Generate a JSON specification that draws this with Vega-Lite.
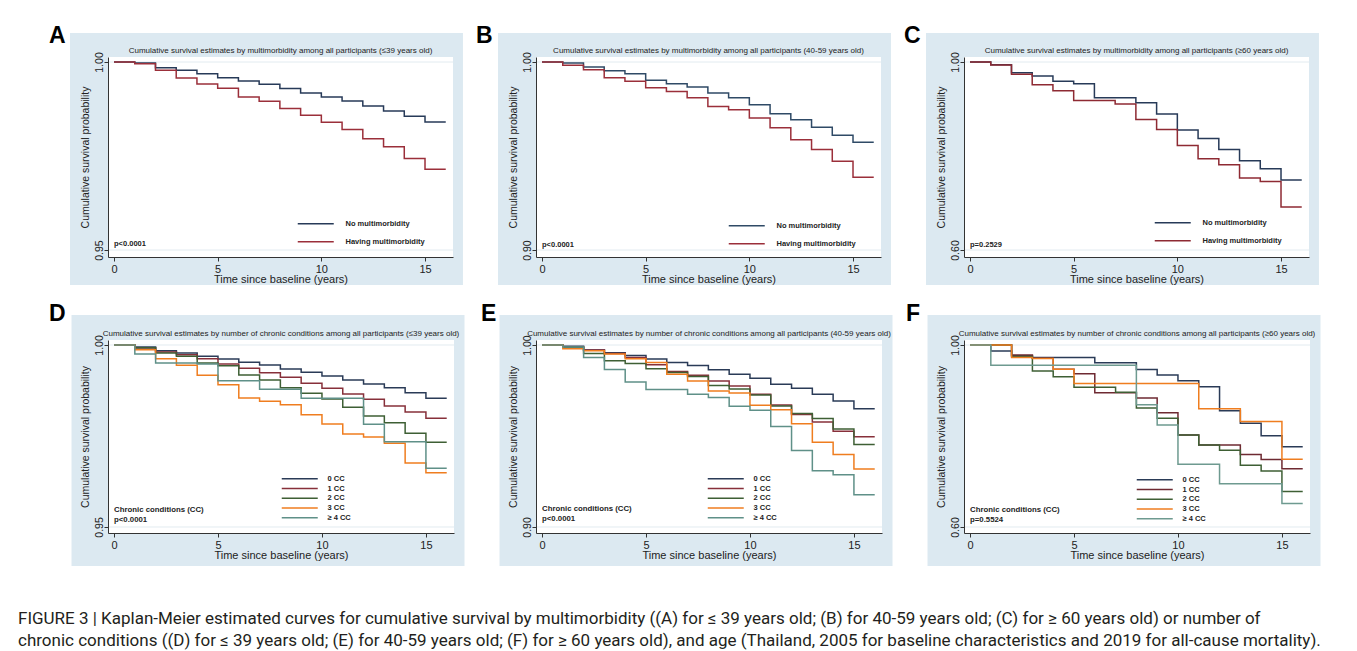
{
  "$schema": "https://vega.github.io/schema/vega-lite/v6.json",
  "background": "white",
  "padding": {"left": 17, "top": 24, "right": 10, "bottom": 6},
  "config": {
    "font": "Liberation Sans",
    "view": {"stroke": null},
    "axis": {"grid": false, "domainColor": "#333333", "tickColor": "#333333", "labelColor": "#222222", "titleColor": "#222222", "titleFontWeight": "normal", "tickSize": 4, "labelFont": "Liberation Sans", "titleFont": "Liberation Sans"},
    "axisX": {"labelFontSize": 11, "titleFontSize": 11, "labelPadding": 2, "titlePadding": -1, "labelFlush": false},
    "axisY": {"labelFontSize": 10.5, "titleFontSize": 10.5, "labelAngle": -90, "labelAlign": "center", "labelBaseline": "bottom", "labelPadding": 0, "titlePadding": 4},
    "legend": {"orient": "none", "symbolType": "M-9,0H9", "symbolSize": 16, "symbolStrokeWidth": 1.5, "labelFont": "Liberation Sans", "labelFontSize": 7.5, "labelFontWeight": "bold", "labelColor": "#222222", "padding": 0},
    "title": {"font": "Liberation Sans", "fontSize": 8, "fontWeight": "normal", "color": "#222222", "anchor": "middle", "frame": "group", "offset": -30, "zindex": 1},
    "text": {"font": "Liberation Sans", "color": "#222222"}
  },
  "datasets": {
    "A": [
      {"t":0,"s":1,"g":"No multimorbidity"},{"t":1,"s":0.99973,"g":"No multimorbidity"},{"t":2,"s":0.9985,"g":"No multimorbidity"},{"t":3,"s":0.99779,"g":"No multimorbidity"},{"t":4,"s":0.9969,"g":"No multimorbidity"},{"t":5,"s":0.99584,"g":"No multimorbidity"},{"t":6,"s":0.99496,"g":"No multimorbidity"},{"t":7,"s":0.99407,"g":"No multimorbidity"},{"t":8,"s":0.99292,"g":"No multimorbidity"},{"t":9,"s":0.99177,"g":"No multimorbidity"},{"t":10,"s":0.99071,"g":"No multimorbidity"},{"t":11,"s":0.98965,"g":"No multimorbidity"},{"t":12,"s":0.98832,"g":"No multimorbidity"},{"t":13,"s":0.98699,"g":"No multimorbidity"},{"t":14,"s":0.98558,"g":"No multimorbidity"},{"t":15,"s":0.98407,"g":"No multimorbidity"},{"t":16,"s":0.98407,"g":"No multimorbidity"},
      {"t":0,"s":1,"g":"Having multimorbidity"},{"t":1,"s":0.99956,"g":"Having multimorbidity"},{"t":2,"s":0.99779,"g":"Having multimorbidity"},{"t":3,"s":0.99575,"g":"Having multimorbidity"},{"t":4,"s":0.99416,"g":"Having multimorbidity"},{"t":5,"s":0.99301,"g":"Having multimorbidity"},{"t":6,"s":0.99071,"g":"Having multimorbidity"},{"t":7,"s":0.98956,"g":"Having multimorbidity"},{"t":8,"s":0.98761,"g":"Having multimorbidity"},{"t":9,"s":0.98584,"g":"Having multimorbidity"},{"t":10,"s":0.98398,"g":"Having multimorbidity"},{"t":11,"s":0.98204,"g":"Having multimorbidity"},{"t":12,"s":0.97956,"g":"Having multimorbidity"},{"t":13,"s":0.97743,"g":"Having multimorbidity"},{"t":14,"s":0.97434,"g":"Having multimorbidity"},{"t":15,"s":0.9715,"g":"Having multimorbidity"},{"t":16,"s":0.9715,"g":"Having multimorbidity"}
    ],
    "B": [
      {"t":0,"s":1,"g":"No multimorbidity"},{"t":1,"s":0.99947,"g":"No multimorbidity"},{"t":2,"s":0.99734,"g":"No multimorbidity"},{"t":3,"s":0.99538,"g":"No multimorbidity"},{"t":4,"s":0.99378,"g":"No multimorbidity"},{"t":5,"s":0.99023,"g":"No multimorbidity"},{"t":6,"s":0.98845,"g":"No multimorbidity"},{"t":7,"s":0.98668,"g":"No multimorbidity"},{"t":8,"s":0.98348,"g":"No multimorbidity"},{"t":9,"s":0.98099,"g":"No multimorbidity"},{"t":10,"s":0.97726,"g":"No multimorbidity"},{"t":11,"s":0.97247,"g":"No multimorbidity"},{"t":12,"s":0.96927,"g":"No multimorbidity"},{"t":13,"s":0.96536,"g":"No multimorbidity"},{"t":14,"s":0.9611,"g":"No multimorbidity"},{"t":15,"s":0.95737,"g":"No multimorbidity"},{"t":16,"s":0.95737,"g":"No multimorbidity"},
      {"t":0,"s":1,"g":"Having multimorbidity"},{"t":1,"s":0.99822,"g":"Having multimorbidity"},{"t":2,"s":0.99591,"g":"Having multimorbidity"},{"t":3,"s":0.99165,"g":"Having multimorbidity"},{"t":4,"s":0.9897,"g":"Having multimorbidity"},{"t":5,"s":0.98632,"g":"Having multimorbidity"},{"t":6,"s":0.98437,"g":"Having multimorbidity"},{"t":7,"s":0.98099,"g":"Having multimorbidity"},{"t":8,"s":0.97638,"g":"Having multimorbidity"},{"t":9,"s":0.9746,"g":"Having multimorbidity"},{"t":10,"s":0.97016,"g":"Having multimorbidity"},{"t":11,"s":0.96501,"g":"Having multimorbidity"},{"t":12,"s":0.95861,"g":"Having multimorbidity"},{"t":13,"s":0.95346,"g":"Having multimorbidity"},{"t":14,"s":0.94725,"g":"Having multimorbidity"},{"t":15,"s":0.93872,"g":"Having multimorbidity"},{"t":16,"s":0.93872,"g":"Having multimorbidity"}
    ],
    "C": [
      {"t":0,"s":1,"g":"No multimorbidity"},{"t":1,"s":0.99432,"g":"No multimorbidity"},{"t":2,"s":0.97726,"g":"No multimorbidity"},{"t":3,"s":0.97016,"g":"No multimorbidity"},{"t":4,"s":0.95879,"g":"No multimorbidity"},{"t":5,"s":0.95382,"g":"No multimorbidity"},{"t":6,"s":0.92398,"g":"No multimorbidity"},{"t":7,"s":0.92398,"g":"No multimorbidity"},{"t":8,"s":0.91332,"g":"No multimorbidity"},{"t":9,"s":0.88917,"g":"No multimorbidity"},{"t":10,"s":0.85506,"g":"No multimorbidity"},{"t":11,"s":0.8373,"g":"No multimorbidity"},{"t":12,"s":0.81385,"g":"No multimorbidity"},{"t":13,"s":0.7897,"g":"No multimorbidity"},{"t":14,"s":0.77265,"g":"No multimorbidity"},{"t":15,"s":0.7492,"g":"No multimorbidity"},{"t":16,"s":0.7492,"g":"No multimorbidity"},
      {"t":0,"s":1,"g":"Having multimorbidity"},{"t":1,"s":0.99361,"g":"Having multimorbidity"},{"t":2,"s":0.97371,"g":"Having multimorbidity"},{"t":3,"s":0.95169,"g":"Having multimorbidity"},{"t":4,"s":0.9389,"g":"Having multimorbidity"},{"t":5,"s":0.91829,"g":"Having multimorbidity"},{"t":6,"s":0.91829,"g":"Having multimorbidity"},{"t":7,"s":0.91048,"g":"Having multimorbidity"},{"t":8,"s":0.8778,"g":"Having multimorbidity"},{"t":9,"s":0.85648,"g":"Having multimorbidity"},{"t":10,"s":0.82238,"g":"Having multimorbidity"},{"t":11,"s":0.79396,"g":"Having multimorbidity"},{"t":12,"s":0.78117,"g":"Having multimorbidity"},{"t":13,"s":0.75346,"g":"Having multimorbidity"},{"t":14,"s":0.74565,"g":"Having multimorbidity"},{"t":15,"s":0.69165,"g":"Having multimorbidity"},{"t":16,"s":0.69165,"g":"Having multimorbidity"}
    ],
    "D": [
      {"t":0,"s":1,"g":"0 CC"},{"t":1,"s":0.99945,"g":"0 CC"},{"t":2,"s":0.99844,"g":"0 CC"},{"t":3,"s":0.9978,"g":"0 CC"},{"t":4,"s":0.99689,"g":"0 CC"},{"t":5,"s":0.99615,"g":"0 CC"},{"t":6,"s":0.99524,"g":"0 CC"},{"t":7,"s":0.99451,"g":"0 CC"},{"t":8,"s":0.99341,"g":"0 CC"},{"t":9,"s":0.99249,"g":"0 CC"},{"t":10,"s":0.99148,"g":"0 CC"},{"t":11,"s":0.99038,"g":"0 CC"},{"t":12,"s":0.98929,"g":"0 CC"},{"t":13,"s":0.98828,"g":"0 CC"},{"t":14,"s":0.9869,"g":"0 CC"},{"t":15,"s":0.98535,"g":"0 CC"},{"t":16,"s":0.98535,"g":"0 CC"},
      {"t":0,"s":1,"g":"1 CC"},{"t":1,"s":0.99918,"g":"1 CC"},{"t":2,"s":0.99808,"g":"1 CC"},{"t":3,"s":0.99734,"g":"1 CC"},{"t":4,"s":0.99625,"g":"1 CC"},{"t":5,"s":0.99478,"g":"1 CC"},{"t":6,"s":0.99359,"g":"1 CC"},{"t":7,"s":0.9924,"g":"1 CC"},{"t":8,"s":0.99112,"g":"1 CC"},{"t":9,"s":0.98947,"g":"1 CC"},{"t":10,"s":0.9881,"g":"1 CC"},{"t":11,"s":0.98654,"g":"1 CC"},{"t":12,"s":0.98507,"g":"1 CC"},{"t":13,"s":0.98324,"g":"1 CC"},{"t":14,"s":0.98159,"g":"1 CC"},{"t":15,"s":0.97985,"g":"1 CC"},{"t":16,"s":0.97985,"g":"1 CC"},
      {"t":0,"s":1,"g":"2 CC"},{"t":1,"s":0.99927,"g":"2 CC"},{"t":2,"s":0.9978,"g":"2 CC"},{"t":3,"s":0.99689,"g":"2 CC"},{"t":4,"s":0.99505,"g":"2 CC"},{"t":5,"s":0.99432,"g":"2 CC"},{"t":6,"s":0.99176,"g":"2 CC"},{"t":7,"s":0.99038,"g":"2 CC"},{"t":8,"s":0.98828,"g":"2 CC"},{"t":9,"s":0.98672,"g":"2 CC"},{"t":10,"s":0.98516,"g":"2 CC"},{"t":11,"s":0.98288,"g":"2 CC"},{"t":12,"s":0.98049,"g":"2 CC"},{"t":13,"s":0.97866,"g":"2 CC"},{"t":14,"s":0.97573,"g":"2 CC"},{"t":15,"s":0.97326,"g":"2 CC"},{"t":16,"s":0.97326,"g":"2 CC"},
      {"t":0,"s":1,"g":"3 CC"},{"t":1,"s":0.99872,"g":"3 CC"},{"t":2,"s":0.99625,"g":"3 CC"},{"t":3,"s":0.99441,"g":"3 CC"},{"t":4,"s":0.99167,"g":"3 CC"},{"t":5,"s":0.9891,"g":"3 CC"},{"t":6,"s":0.98544,"g":"3 CC"},{"t":7,"s":0.98452,"g":"3 CC"},{"t":8,"s":0.98361,"g":"3 CC"},{"t":9,"s":0.98086,"g":"3 CC"},{"t":10,"s":0.9783,"g":"3 CC"},{"t":11,"s":0.97555,"g":"3 CC"},{"t":12,"s":0.97473,"g":"3 CC"},{"t":13,"s":0.97299,"g":"3 CC"},{"t":14,"s":0.96758,"g":"3 CC"},{"t":15,"s":0.96493,"g":"3 CC"},{"t":16,"s":0.96493,"g":"3 CC"},
      {"t":0,"s":1,"g":"≥ 4 CC"},{"t":1,"s":0.99753,"g":"≥ 4 CC"},{"t":2,"s":0.99505,"g":"≥ 4 CC"},{"t":3,"s":0.99505,"g":"≥ 4 CC"},{"t":4,"s":0.99478,"g":"≥ 4 CC"},{"t":5,"s":0.9902,"g":"≥ 4 CC"},{"t":6,"s":0.9902,"g":"≥ 4 CC"},{"t":7,"s":0.98782,"g":"≥ 4 CC"},{"t":8,"s":0.98782,"g":"≥ 4 CC"},{"t":9,"s":0.98535,"g":"≥ 4 CC"},{"t":10,"s":0.98535,"g":"≥ 4 CC"},{"t":11,"s":0.98535,"g":"≥ 4 CC"},{"t":12,"s":0.97821,"g":"≥ 4 CC"},{"t":13,"s":0.97344,"g":"≥ 4 CC"},{"t":14,"s":0.97344,"g":"≥ 4 CC"},{"t":15,"s":0.96612,"g":"≥ 4 CC"},{"t":16,"s":0.96612,"g":"≥ 4 CC"}
    ],
    "E": [
      {"t":0,"s":1,"g":"0 CC"},{"t":1,"s":0.99926,"g":"0 CC"},{"t":2,"s":0.99724,"g":"0 CC"},{"t":3,"s":0.99576,"g":"0 CC"},{"t":4,"s":0.99429,"g":"0 CC"},{"t":5,"s":0.99227,"g":"0 CC"},{"t":6,"s":0.99042,"g":"0 CC"},{"t":7,"s":0.98877,"g":"0 CC"},{"t":8,"s":0.98637,"g":"0 CC"},{"t":9,"s":0.98398,"g":"0 CC"},{"t":10,"s":0.98177,"g":"0 CC"},{"t":11,"s":0.97845,"g":"0 CC"},{"t":12,"s":0.97624,"g":"0 CC"},{"t":13,"s":0.97293,"g":"0 CC"},{"t":14,"s":0.96924,"g":"0 CC"},{"t":15,"s":0.96501,"g":"0 CC"},{"t":16,"s":0.96501,"g":"0 CC"},
      {"t":0,"s":1,"g":"1 CC"},{"t":1,"s":0.99871,"g":"1 CC"},{"t":2,"s":0.99724,"g":"1 CC"},{"t":3,"s":0.9954,"g":"1 CC"},{"t":4,"s":0.99319,"g":"1 CC"},{"t":5,"s":0.98913,"g":"1 CC"},{"t":6,"s":0.98545,"g":"1 CC"},{"t":7,"s":0.98343,"g":"1 CC"},{"t":8,"s":0.98029,"g":"1 CC"},{"t":9,"s":0.97753,"g":"1 CC"},{"t":10,"s":0.97293,"g":"1 CC"},{"t":11,"s":0.96703,"g":"1 CC"},{"t":12,"s":0.96188,"g":"1 CC"},{"t":13,"s":0.95764,"g":"1 CC"},{"t":14,"s":0.95267,"g":"1 CC"},{"t":15,"s":0.94954,"g":"1 CC"},{"t":16,"s":0.94954,"g":"1 CC"},
      {"t":0,"s":1,"g":"2 CC"},{"t":1,"s":0.99871,"g":"2 CC"},{"t":2,"s":0.9954,"g":"2 CC"},{"t":3,"s":0.99134,"g":"2 CC"},{"t":4,"s":0.98987,"g":"2 CC"},{"t":5,"s":0.98692,"g":"2 CC"},{"t":6,"s":0.9849,"g":"2 CC"},{"t":7,"s":0.98269,"g":"2 CC"},{"t":8,"s":0.97772,"g":"2 CC"},{"t":9,"s":0.97587,"g":"2 CC"},{"t":10,"s":0.97256,"g":"2 CC"},{"t":11,"s":0.96648,"g":"2 CC"},{"t":12,"s":0.96243,"g":"2 CC"},{"t":13,"s":0.95967,"g":"2 CC"},{"t":14,"s":0.95378,"g":"2 CC"},{"t":15,"s":0.9453,"g":"2 CC"},{"t":16,"s":0.9453,"g":"2 CC"},
      {"t":0,"s":1,"g":"3 CC"},{"t":1,"s":0.99797,"g":"3 CC"},{"t":2,"s":0.99687,"g":"3 CC"},{"t":3,"s":0.99503,"g":"3 CC"},{"t":4,"s":0.99245,"g":"3 CC"},{"t":5,"s":0.99042,"g":"3 CC"},{"t":6,"s":0.98398,"g":"3 CC"},{"t":7,"s":0.98029,"g":"3 CC"},{"t":8,"s":0.97477,"g":"3 CC"},{"t":9,"s":0.97366,"g":"3 CC"},{"t":10,"s":0.96685,"g":"3 CC"},{"t":11,"s":0.96446,"g":"3 CC"},{"t":12,"s":0.95672,"g":"3 CC"},{"t":13,"s":0.94659,"g":"3 CC"},{"t":14,"s":0.93978,"g":"3 CC"},{"t":15,"s":0.93186,"g":"3 CC"},{"t":16,"s":0.93186,"g":"3 CC"},
      {"t":0,"s":1,"g":"≥ 4 CC"},{"t":1,"s":0.9989,"g":"≥ 4 CC"},{"t":2,"s":0.99319,"g":"≥ 4 CC"},{"t":3,"s":0.98656,"g":"≥ 4 CC"},{"t":4,"s":0.97974,"g":"≥ 4 CC"},{"t":5,"s":0.97551,"g":"≥ 4 CC"},{"t":6,"s":0.97551,"g":"≥ 4 CC"},{"t":7,"s":0.97293,"g":"≥ 4 CC"},{"t":8,"s":0.97109,"g":"≥ 4 CC"},{"t":9,"s":0.9663,"g":"≥ 4 CC"},{"t":10,"s":0.96409,"g":"≥ 4 CC"},{"t":11,"s":0.95525,"g":"≥ 4 CC"},{"t":12,"s":0.94199,"g":"≥ 4 CC"},{"t":13,"s":0.93094,"g":"≥ 4 CC"},{"t":14,"s":0.92873,"g":"≥ 4 CC"},{"t":15,"s":0.91768,"g":"≥ 4 CC"},{"t":16,"s":0.91768,"g":"≥ 4 CC"}
    ],
    "F": [
      {"t":0,"s":1,"g":"0 CC"},{"t":1,"s":0.98667,"g":"0 CC"},{"t":2,"s":0.9763,"g":"0 CC"},{"t":3,"s":0.97259,"g":"0 CC"},{"t":4,"s":0.97259,"g":"0 CC"},{"t":5,"s":0.97259,"g":"0 CC"},{"t":6,"s":0.96074,"g":"0 CC"},{"t":7,"s":0.96074,"g":"0 CC"},{"t":8,"s":0.94593,"g":"0 CC"},{"t":9,"s":0.93407,"g":"0 CC"},{"t":10,"s":0.92148,"g":"0 CC"},{"t":11,"s":0.90815,"g":"0 CC"},{"t":12,"s":0.85556,"g":"0 CC"},{"t":13,"s":0.82815,"g":"0 CC"},{"t":14,"s":0.80074,"g":"0 CC"},{"t":15,"s":0.7763,"g":"0 CC"},{"t":16,"s":0.7763,"g":"0 CC"},
      {"t":0,"s":1,"g":"1 CC"},{"t":1,"s":1,"g":"1 CC"},{"t":2,"s":0.97778,"g":"1 CC"},{"t":3,"s":0.97111,"g":"1 CC"},{"t":4,"s":0.94667,"g":"1 CC"},{"t":5,"s":0.93704,"g":"1 CC"},{"t":6,"s":0.89481,"g":"1 CC"},{"t":7,"s":0.89481,"g":"1 CC"},{"t":8,"s":0.8837,"g":"1 CC"},{"t":9,"s":0.85111,"g":"1 CC"},{"t":10,"s":0.80222,"g":"1 CC"},{"t":11,"s":0.78,"g":"1 CC"},{"t":12,"s":0.78,"g":"1 CC"},{"t":13,"s":0.75926,"g":"1 CC"},{"t":14,"s":0.74815,"g":"1 CC"},{"t":15,"s":0.72815,"g":"1 CC"},{"t":16,"s":0.72815,"g":"1 CC"},
      {"t":0,"s":1,"g":"2 CC"},{"t":1,"s":1,"g":"2 CC"},{"t":2,"s":0.97481,"g":"2 CC"},{"t":3,"s":0.94296,"g":"2 CC"},{"t":4,"s":0.93037,"g":"2 CC"},{"t":5,"s":0.90741,"g":"2 CC"},{"t":6,"s":0.90741,"g":"2 CC"},{"t":7,"s":0.8963,"g":"2 CC"},{"t":8,"s":0.86148,"g":"2 CC"},{"t":9,"s":0.83926,"g":"2 CC"},{"t":10,"s":0.80222,"g":"2 CC"},{"t":11,"s":0.78,"g":"2 CC"},{"t":12,"s":0.76889,"g":"2 CC"},{"t":13,"s":0.73556,"g":"2 CC"},{"t":14,"s":0.72296,"g":"2 CC"},{"t":15,"s":0.67778,"g":"2 CC"},{"t":16,"s":0.67778,"g":"2 CC"},
      {"t":0,"s":1,"g":"3 CC"},{"t":1,"s":1,"g":"3 CC"},{"t":2,"s":0.97259,"g":"3 CC"},{"t":3,"s":0.97037,"g":"3 CC"},{"t":4,"s":0.94667,"g":"3 CC"},{"t":5,"s":0.91556,"g":"3 CC"},{"t":6,"s":0.91556,"g":"3 CC"},{"t":7,"s":0.91556,"g":"3 CC"},{"t":8,"s":0.91556,"g":"3 CC"},{"t":9,"s":0.91556,"g":"3 CC"},{"t":10,"s":0.91556,"g":"3 CC"},{"t":11,"s":0.86,"g":"3 CC"},{"t":12,"s":0.86,"g":"3 CC"},{"t":13,"s":0.83185,"g":"3 CC"},{"t":14,"s":0.83185,"g":"3 CC"},{"t":15,"s":0.74889,"g":"3 CC"},{"t":16,"s":0.74889,"g":"3 CC"},
      {"t":0,"s":1,"g":"≥ 4 CC"},{"t":1,"s":0.95556,"g":"≥ 4 CC"},{"t":2,"s":0.95556,"g":"≥ 4 CC"},{"t":3,"s":0.95556,"g":"≥ 4 CC"},{"t":4,"s":0.95556,"g":"≥ 4 CC"},{"t":5,"s":0.95556,"g":"≥ 4 CC"},{"t":6,"s":0.95556,"g":"≥ 4 CC"},{"t":7,"s":0.95556,"g":"≥ 4 CC"},{"t":8,"s":0.86889,"g":"≥ 4 CC"},{"t":9,"s":0.82444,"g":"≥ 4 CC"},{"t":10,"s":0.73778,"g":"≥ 4 CC"},{"t":11,"s":0.73778,"g":"≥ 4 CC"},{"t":12,"s":0.69481,"g":"≥ 4 CC"},{"t":13,"s":0.69481,"g":"≥ 4 CC"},{"t":14,"s":0.69481,"g":"≥ 4 CC"},{"t":15,"s":0.65185,"g":"≥ 4 CC"},{"t":16,"s":0.65185,"g":"≥ 4 CC"}
    ]
  },
  "title": {
    "text": ["FIGURE 3 | Kaplan-Meier estimated curves for cumulative survival by multimorbidity ((A) for ≤ 39 years old; (B) for 40-59 years old; (C) for ≥ 60 years old) or number of", "chronic conditions ((D) for ≤ 39 years old; (E) for 40-59 years old; (F) for ≥ 60 years old), and age (Thailand, 2005 for baseline characteristics and 2019 for all-cause mortality)."],
    "orient": "bottom", "anchor": "start", "frame": "bounds", "dx": -31, "offset": 45,
    "font": "Roboto", "fontSize": 17, "fontWeight": "normal", "color": "#231f20", "lineHeight": 22, "baseline": "top"
  },
  "columns": 3,
  "bounds": "flush",
  "spacing": {"row": 83, "column": 82},
  "resolve": {"scale": {"x": "independent", "y": "independent", "color": "independent"}, "axis": {"x": "independent", "y": "independent"}, "legend": {"color": "independent"}},
  "concat": [
    {
      "width": 345, "height": 200,
      "title": {"text": "Cumulative survival estimates by multimorbidity among all participants (≤39 years old)"},
      "layer": [
        {"data": {"values": [{}]}, "mark": {"type": "rect", "fill": "#dce9f1"}, "encoding": {"x": {"datum": -2.123, "type": "quantitative"}, "x2": {"datum": 16.83}, "y": {"datum": 0.94069, "type": "quantitative"}, "y2": {"datum": 1.00771}}},
        {"data": {"values": [{}]}, "mark": {"type": "rect", "fill": "#ffffff"}, "encoding": {"x": {"datum": -0.29, "type": "quantitative"}, "x2": {"datum": 16.35}, "y": {"datum": 0.94814, "type": "quantitative"}, "y2": {"datum": 1.00133}}},
        {"data": {"values": [{}]}, "mark": {"type": "rule", "stroke": "#e2ebf0"}, "encoding": {"y": {"datum": 1, "type": "quantitative"}}},
        {"data": {"values": [{}]}, "mark": {"type": "rule", "stroke": "#e2ebf0"}, "encoding": {"y": {"datum": 0.95, "type": "quantitative"}}},
        {"data": {"name": "A"}, "mark": {"type": "line", "interpolate": "step-after", "strokeWidth": 1.5},
         "encoding": {
           "x": {"field": "t", "type": "quantitative", "scale": {"domain": [-0.29, 16.35], "nice": false, "zero": false}, "axis": {"title": "Time since baseline (years)", "values": [0, 5, 10, 15], "zindex": 2}},
           "y": {"field": "s", "type": "quantitative", "scale": {"domain": [0.94814, 1.00133], "nice": false, "zero": false}, "axis": {"title": "Cumulative survival probability", "values": [0.95, 1], "format": ".2f", "zindex": 2}},
           "color": {"field": "g", "type": "nominal", "scale": {"domain": ["No multimorbidity", "Having multimorbidity"], "range": ["#273a58", "#9b2f3a"]}, "legend": {"title": null, "legendX": 204, "legendY": 163, "rowPadding": 9, "labelOffset": 26, "zindex": 2}}
         }},
        {"data": {"values": [{}]}, "mark": {"type": "text", "text": "p<0.0001", "align": "left", "baseline": "alphabetic", "fontWeight": "bold", "fontSize": 7.5}, "encoding": {"x": {"datum": 0, "type": "quantitative"}, "y": {"datum": 0.95106, "type": "quantitative"}}},
        {"data": {"values": [{}]}, "mark": {"type": "text", "text": "A", "align": "left", "baseline": "alphabetic", "fontWeight": "bold", "fontSize": 23, "color": "#000000"}, "encoding": {"x": {"datum": -3.136, "type": "quantitative"}, "y": {"datum": 1.00505, "type": "quantitative"}}}
      ]
    },
    {
      "width": 345, "height": 200,
      "title": {"text": "Cumulative survival estimates by multimorbidity among all participants (40-59 years old)"},
      "layer": [
        {"data": {"values": [{}]}, "mark": {"type": "rect", "fill": "#dce9f1"}, "encoding": {"x": {"datum": -2.123, "type": "quantitative"}, "x2": {"datum": 16.83}, "y": {"datum": 0.88139, "type": "quantitative"}, "y2": {"datum": 1.01543}}},
        {"data": {"values": [{}]}, "mark": {"type": "rect", "fill": "#ffffff"}, "encoding": {"x": {"datum": -0.29, "type": "quantitative"}, "x2": {"datum": 16.35}, "y": {"datum": 0.89628, "type": "quantitative"}, "y2": {"datum": 1.00266}}},
        {"data": {"values": [{}]}, "mark": {"type": "rule", "stroke": "#e2ebf0"}, "encoding": {"y": {"datum": 1, "type": "quantitative"}}},
        {"data": {"values": [{}]}, "mark": {"type": "rule", "stroke": "#e2ebf0"}, "encoding": {"y": {"datum": 0.9, "type": "quantitative"}}},
        {"data": {"name": "B"}, "mark": {"type": "line", "interpolate": "step-after", "strokeWidth": 1.5},
         "encoding": {
           "x": {"field": "t", "type": "quantitative", "scale": {"domain": [-0.29, 16.35], "nice": false, "zero": false}, "axis": {"title": "Time since baseline (years)", "values": [0, 5, 10, 15], "zindex": 2}},
           "y": {"field": "s", "type": "quantitative", "scale": {"domain": [0.89628, 1.00266], "nice": false, "zero": false}, "axis": {"title": "Cumulative survival probability", "values": [0.9, 1], "format": ".2f", "zindex": 2}},
           "color": {"field": "g", "type": "nominal", "scale": {"domain": ["No multimorbidity", "Having multimorbidity"], "range": ["#2f4a66", "#9b2f3a"]}, "legend": {"title": null, "legendX": 207, "legendY": 165, "rowPadding": 9, "labelOffset": 26, "zindex": 2}}
         }},
        {"data": {"values": [{}]}, "mark": {"type": "text", "text": "p<0.0001", "align": "left", "baseline": "alphabetic", "fontWeight": "bold", "fontSize": 7.5}, "encoding": {"x": {"datum": 0, "type": "quantitative"}, "y": {"datum": 0.90186, "type": "quantitative"}}},
        {"data": {"values": [{}]}, "mark": {"type": "text", "text": "B", "align": "left", "baseline": "alphabetic", "fontWeight": "bold", "fontSize": 23, "color": "#000000"}, "encoding": {"x": {"datum": -3.184, "type": "quantitative"}, "y": {"datum": 1.01011, "type": "quantitative"}}}
      ]
    },
    {
      "width": 345, "height": 200,
      "title": {"text": "Cumulative survival estimates by multimorbidity among all participants (≥60 years old)"},
      "layer": [
        {"data": {"values": [{}]}, "mark": {"type": "rect", "fill": "#dce9f1"}, "encoding": {"x": {"datum": -2.123, "type": "quantitative"}, "x2": {"datum": 16.83}, "y": {"datum": 0.52553, "type": "quantitative"}, "y2": {"datum": 1.0617}}},
        {"data": {"values": [{}]}, "mark": {"type": "rect", "fill": "#ffffff"}, "encoding": {"x": {"datum": -0.29, "type": "quantitative"}, "x2": {"datum": 16.35}, "y": {"datum": 0.58511, "type": "quantitative"}, "y2": {"datum": 1.01064}}},
        {"data": {"values": [{}]}, "mark": {"type": "rule", "stroke": "#e2ebf0"}, "encoding": {"y": {"datum": 1, "type": "quantitative"}}},
        {"data": {"values": [{}]}, "mark": {"type": "rule", "stroke": "#e2ebf0"}, "encoding": {"y": {"datum": 0.6, "type": "quantitative"}}},
        {"data": {"name": "C"}, "mark": {"type": "line", "interpolate": "step-after", "strokeWidth": 1.5},
         "encoding": {
           "x": {"field": "t", "type": "quantitative", "scale": {"domain": [-0.29, 16.35], "nice": false, "zero": false}, "axis": {"title": "Time since baseline (years)", "values": [0, 5, 10, 15], "zindex": 2}},
           "y": {"field": "s", "type": "quantitative", "scale": {"domain": [0.58511, 1.01064], "nice": false, "zero": false}, "axis": {"title": "Cumulative survival probability", "values": [0.6, 1], "format": ".2f", "zindex": 2}},
           "color": {"field": "g", "type": "nominal", "scale": {"domain": ["No multimorbidity", "Having multimorbidity"], "range": ["#273a58", "#8e2a33"]}, "legend": {"title": null, "legendX": 205, "legendY": 162, "rowPadding": 9, "labelOffset": 26, "zindex": 2}}
         }},
        {"data": {"values": [{}]}, "mark": {"type": "text", "text": "p=0.2529", "align": "left", "baseline": "alphabetic", "fontWeight": "bold", "fontSize": 7.5}, "encoding": {"x": {"datum": 0, "type": "quantitative"}, "y": {"datum": 0.60745, "type": "quantitative"}}},
        {"data": {"values": [{}]}, "mark": {"type": "text", "text": "C", "align": "left", "baseline": "alphabetic", "fontWeight": "bold", "fontSize": 23, "color": "#000000"}, "encoding": {"x": {"datum": -3.184, "type": "quantitative"}, "y": {"datum": 1.04043, "type": "quantitative"}}}
      ]
    },
    {
      "width": 346, "height": 193,
      "title": {"text": "Cumulative survival estimates by number of chronic conditions among all participants (≤39 years old)", "offset": -35},
      "layer": [
        {"data": {"values": [{}]}, "mark": {"type": "rect", "fill": "#dce9f1"}, "encoding": {"x": {"datum": -2.045, "type": "quantitative"}, "x2": {"datum": 16.855}, "y": {"datum": 0.93928, "type": "quantitative"}, "y2": {"datum": 1.00824}}},
        {"data": {"values": [{}]}, "mark": {"type": "rect", "fill": "#ffffff"}, "encoding": {"x": {"datum": -0.29, "type": "quantitative"}, "x2": {"datum": 16.35}, "y": {"datum": 0.94835, "type": "quantitative"}, "y2": {"datum": 1.00137}}},
        {"data": {"values": [{}]}, "mark": {"type": "rule", "stroke": "#e2ebf0"}, "encoding": {"y": {"datum": 1, "type": "quantitative"}}},
        {"data": {"values": [{}]}, "mark": {"type": "rule", "stroke": "#e2ebf0"}, "encoding": {"y": {"datum": 0.95, "type": "quantitative"}}},
        {"data": {"name": "D"}, "mark": {"type": "line", "interpolate": "step-after", "strokeWidth": 1.5},
         "encoding": {
           "x": {"field": "t", "type": "quantitative", "scale": {"domain": [-0.29, 16.35], "nice": false, "zero": false}, "axis": {"title": "Time since baseline (years)", "values": [0, 5, 10, 15], "zindex": 2}},
           "y": {"field": "s", "type": "quantitative", "scale": {"domain": [0.94835, 1.00137], "nice": false, "zero": false}, "axis": {"title": "Cumulative survival probability", "values": [0.95, 1], "format": ".2f", "zindex": 2}},
           "color": {"field": "g", "type": "nominal", "scale": {"domain": ["0 CC", "1 CC", "2 CC", "3 CC", "≥ 4 CC"], "range": ["#2a3b57", "#87303a", "#3e5f34", "#ef7d1f", "#5f9088"]}, "legend": {"title": null, "legendX": 188, "legendY": 135, "rowPadding": 0.75, "labelOffset": 24, "zindex": 2}}
         }},
        {"data": {"values": [{}]}, "mark": {"type": "text", "text": ["Chronic conditions (CC)", "p<0.0001"], "lineHeight": 10, "align": "left", "baseline": "alphabetic", "fontWeight": "bold", "fontSize": 7.8}, "encoding": {"x": {"datum": 0, "type": "quantitative"}, "y": {"datum": 0.95412, "type": "quantitative"}}},
        {"data": {"values": [{}]}, "mark": {"type": "text", "text": "D", "align": "left", "baseline": "alphabetic", "fontWeight": "bold", "fontSize": 23, "color": "#000000"}, "encoding": {"x": {"datum": -3.128, "type": "quantitative"}, "y": {"datum": 1.00659, "type": "quantitative"}}}
      ]
    },
    {
      "width": 346, "height": 193,
      "title": {"text": "Cumulative survival estimates by number of chronic conditions among all participants (40-59 years old)", "offset": -35},
      "layer": [
        {"data": {"values": [{}]}, "mark": {"type": "rect", "fill": "#dce9f1"}, "encoding": {"x": {"datum": -2.045, "type": "quantitative"}, "x2": {"datum": 16.855}, "y": {"datum": 0.87857, "type": "quantitative"}, "y2": {"datum": 1.01649}}},
        {"data": {"values": [{}]}, "mark": {"type": "rect", "fill": "#ffffff"}, "encoding": {"x": {"datum": -0.29, "type": "quantitative"}, "x2": {"datum": 16.35}, "y": {"datum": 0.8967, "type": "quantitative"}, "y2": {"datum": 1.00275}}},
        {"data": {"values": [{}]}, "mark": {"type": "rule", "stroke": "#e2ebf0"}, "encoding": {"y": {"datum": 1, "type": "quantitative"}}},
        {"data": {"values": [{}]}, "mark": {"type": "rule", "stroke": "#e2ebf0"}, "encoding": {"y": {"datum": 0.9, "type": "quantitative"}}},
        {"data": {"name": "E"}, "mark": {"type": "line", "interpolate": "step-after", "strokeWidth": 1.5},
         "encoding": {
           "x": {"field": "t", "type": "quantitative", "scale": {"domain": [-0.29, 16.35], "nice": false, "zero": false}, "axis": {"title": "Time since baseline (years)", "values": [0, 5, 10, 15], "zindex": 2}},
           "y": {"field": "s", "type": "quantitative", "scale": {"domain": [0.8967, 1.00275], "nice": false, "zero": false}, "axis": {"title": "Cumulative survival probability", "values": [0.9, 1], "format": ".2f", "zindex": 2}},
           "color": {"field": "g", "type": "nominal", "scale": {"domain": ["0 CC", "1 CC", "2 CC", "3 CC", "≥ 4 CC"], "range": ["#2a3b57", "#87303a", "#3e5f34", "#ef7d1f", "#5f9088"]}, "legend": {"title": null, "legendX": 186, "legendY": 135, "rowPadding": 0.75, "labelOffset": 24, "zindex": 2}}
         }},
        {"data": {"values": [{}]}, "mark": {"type": "text", "text": ["Chronic conditions (CC)", "p<0.0001"], "lineHeight": 10, "align": "left", "baseline": "alphabetic", "fontWeight": "bold", "fontSize": 7.8}, "encoding": {"x": {"datum": 0, "type": "quantitative"}, "y": {"datum": 0.90879, "type": "quantitative"}}},
        {"data": {"values": [{}]}, "mark": {"type": "text", "text": "E", "align": "left", "baseline": "alphabetic", "fontWeight": "bold", "fontSize": 23, "color": "#000000"}, "encoding": {"x": {"datum": -2.935, "type": "quantitative"}, "y": {"datum": 1.01319, "type": "quantitative"}}}
      ]
    },
    {
      "width": 346, "height": 193,
      "title": {"text": "Cumulative survival estimates by number of chronic conditions among all participants (≥60 years old)", "offset": -35},
      "layer": [
        {"data": {"values": [{}]}, "mark": {"type": "rect", "fill": "#dce9f1"}, "encoding": {"x": {"datum": -2.045, "type": "quantitative"}, "x2": {"datum": 16.855}, "y": {"datum": 0.51428, "type": "quantitative"}, "y2": {"datum": 1.06593}}},
        {"data": {"values": [{}]}, "mark": {"type": "rect", "fill": "#ffffff"}, "encoding": {"x": {"datum": -0.29, "type": "quantitative"}, "x2": {"datum": 16.35}, "y": {"datum": 0.58681, "type": "quantitative"}, "y2": {"datum": 1.01099}}},
        {"data": {"values": [{}]}, "mark": {"type": "rule", "stroke": "#e2ebf0"}, "encoding": {"y": {"datum": 1, "type": "quantitative"}}},
        {"data": {"values": [{}]}, "mark": {"type": "rule", "stroke": "#e2ebf0"}, "encoding": {"y": {"datum": 0.6, "type": "quantitative"}}},
        {"data": {"name": "F"}, "mark": {"type": "line", "interpolate": "step-after", "strokeWidth": 1.5},
         "encoding": {
           "x": {"field": "t", "type": "quantitative", "scale": {"domain": [-0.29, 16.35], "nice": false, "zero": false}, "axis": {"title": "Time since baseline (years)", "values": [0, 5, 10, 15], "zindex": 2}},
           "y": {"field": "s", "type": "quantitative", "scale": {"domain": [0.58681, 1.01099], "nice": false, "zero": false}, "axis": {"title": "Cumulative survival probability", "values": [0.6, 1], "format": ".2f", "zindex": 2}},
           "color": {"field": "g", "type": "nominal", "scale": {"domain": ["0 CC", "1 CC", "2 CC", "3 CC", "≥ 4 CC"], "range": ["#2a3b57", "#6e2a32", "#3e5f34", "#ef7d1f", "#6e9a90"]}, "legend": {"title": null, "legendX": 187, "legendY": 136, "rowPadding": 0.75, "labelOffset": 24, "zindex": 2}}
         }},
        {"data": {"values": [{}]}, "mark": {"type": "text", "text": ["Chronic conditions (CC)", "p=0.5524"], "lineHeight": 10, "align": "left", "baseline": "alphabetic", "fontWeight": "bold", "fontSize": 7.8}, "encoding": {"x": {"datum": 0, "type": "quantitative"}, "y": {"datum": 0.63297, "type": "quantitative"}}},
        {"data": {"values": [{}]}, "mark": {"type": "text", "text": "F", "align": "left", "baseline": "alphabetic", "fontWeight": "bold", "fontSize": 23, "color": "#000000"}, "encoding": {"x": {"datum": -3.079, "type": "quantitative"}, "y": {"datum": 1.05275, "type": "quantitative"}}}
      ]
    }
  ]
}
